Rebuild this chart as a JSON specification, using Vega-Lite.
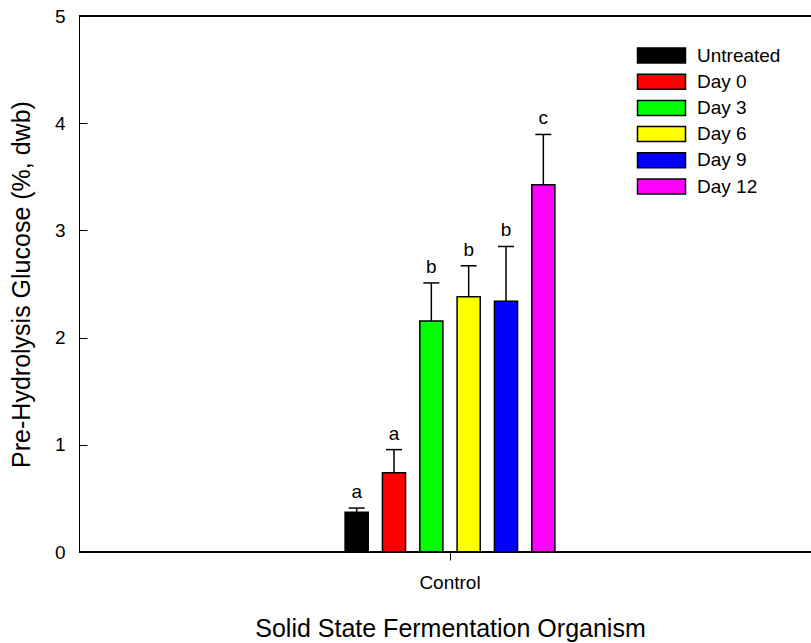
{
  "$schema": "https://vega.github.io/schema/vega-lite/v6.json",
  "width": 732,
  "height": 536,
  "autosize": {"type": "none"},
  "padding": {"left": 79, "top": 16, "right": 0, "bottom": 91},
  "background": "white",
  "config": {
    "view": {"stroke": null},
    "font": "Liberation Sans",
    "axis": {"domainColor": "black", "domainWidth": 1, "tickColor": "black", "tickWidth": 1, "labelColor": "black", "titleColor": "black", "labelFont": "Liberation Sans", "titleFont": "Liberation Sans", "titleFontWeight": "normal", "grid": false},
    "legend": {"labelFont": "Liberation Sans", "labelColor": "black"}
  },
  "data": {
    "values": [
      {"org": "Control", "trt": "Untreated", "mean": 0.37, "upper": 0.41, "sig": "a"},
      {"org": "Control", "trt": "Day 0", "mean": 0.74, "upper": 0.955, "sig": "a"},
      {"org": "Control", "trt": "Day 3", "mean": 2.155, "upper": 2.51, "sig": "b"},
      {"org": "Control", "trt": "Day 6", "mean": 2.38, "upper": 2.67, "sig": "b"},
      {"org": "Control", "trt": "Day 9", "mean": 2.34, "upper": 2.85, "sig": "b"},
      {"org": "Control", "trt": "Day 12", "mean": 3.425, "upper": 3.895, "sig": "c"}
    ]
  },
  "layer": [
    {
      "mark": {"type": "bar", "stroke": "black", "strokeWidth": 1.5},
      "encoding": {
        "x": {"field": "org", "type": "nominal", "title": "Solid State Fermentation Organism",
          "scale": {"range": [10, 732], "paddingInner": 0.5, "paddingOuter": 0.5558},
          "axis": {"labelAngle": 0, "domain": false, "labelFontSize": 19, "titleFontSize": 25, "tickSize": 8, "labelPadding": 13, "titlePadding": 24}},
        "xOffset": {"field": "trt", "type": "nominal", "sort": ["Untreated", "Day 0", "Day 3", "Day 6", "Day 9", "Day 12"],
          "scale": {"paddingInner": 0.38, "paddingOuter": 0.19}},
        "y": {"field": "mean", "type": "quantitative", "title": "Pre-Hydrolysis Glucose (%, dwb)",
          "scale": {"domain": [0, 5], "nice": false},
          "axis": {"values": [0, 1, 2, 3, 4, 5], "format": "d", "labelFontSize": 19, "titleFontSize": 25, "tickSize": -8, "labelPadding": 22, "titlePadding": 20}},
        "color": {"field": "trt", "type": "nominal", "sort": ["Untreated", "Day 0", "Day 3", "Day 6", "Day 9", "Day 12"],
          "scale": {"domain": ["Untreated", "Day 0", "Day 3", "Day 6", "Day 9", "Day 12"], "range": ["#000000", "#FF0000", "#00FF00", "#FFFF00", "#0000FF", "#FF00FF"]},
          "legend": {"title": null, "orient": "none", "legendX": 573, "legendY": 30, "padding": 0,
            "symbolType": "M-3.2,-1H3.2V1H-3.2Z", "symbolSize": 225, "symbolStrokeColor": "black", "symbolStrokeWidth": 1.5, "symbolOpacity": 1,
            "labelFontSize": 19, "labelOffset": 26, "rowPadding": 5.2}}
      }
    },
    {
      "mark": {"type": "rule", "color": "black", "strokeWidth": 1.5},
      "encoding": {
        "x": {"field": "org", "type": "nominal"},
        "xOffset": {"field": "trt", "type": "nominal", "sort": ["Untreated", "Day 0", "Day 3", "Day 6", "Day 9", "Day 12"]},
        "y": {"field": "mean", "type": "quantitative"},
        "y2": {"field": "upper"}
      }
    },
    {
      "mark": {"type": "tick", "color": "black", "thickness": 1.5, "size": 16, "opacity": 1},
      "encoding": {
        "x": {"field": "org", "type": "nominal"},
        "xOffset": {"field": "trt", "type": "nominal", "sort": ["Untreated", "Day 0", "Day 3", "Day 6", "Day 9", "Day 12"]},
        "y": {"field": "upper", "type": "quantitative"}
      }
    },
    {
      "mark": {"type": "text", "fontSize": 19, "baseline": "alphabetic", "dy": -10, "color": "black", "font": "Liberation Sans"},
      "encoding": {
        "x": {"field": "org", "type": "nominal"},
        "xOffset": {"field": "trt", "type": "nominal", "sort": ["Untreated", "Day 0", "Day 3", "Day 6", "Day 9", "Day 12"]},
        "y": {"field": "upper", "type": "quantitative"},
        "text": {"field": "sig"}
      }
    },
    {
      "mark": {"type": "rule", "color": "black", "strokeWidth": 1},
      "encoding": {"y": {"datum": 5}}
    },
    {
      "mark": {"type": "rule", "color": "black", "strokeWidth": 1},
      "encoding": {"y": {"datum": 0}}
    }
  ]
}
